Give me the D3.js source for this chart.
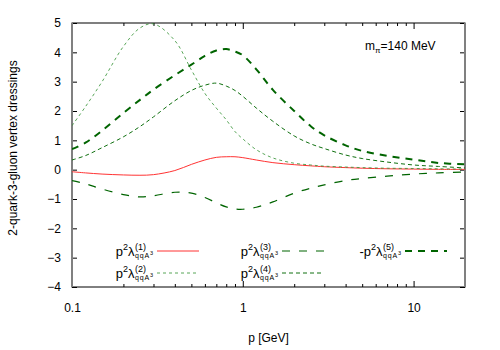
<!DOCTYPE html>
<html>
<head>
<meta charset="utf-8">
<script src="https://cdn.jsdelivr.net/npm/d3@7/dist/d3.min.js"></script>
<style>
  body { margin: 0; background: #fff; }
  text { font-family: "Liberation Sans", Arial, sans-serif; fill: #000; }
</style>
</head>
<body>
<script>
// momentum grid (GeV), shared by all curves
var pValues = [0.1, 0.12, 0.15, 0.2, 0.25, 0.3, 0.4, 0.5, 0.6, 0.7, 0.8, 0.9, 1, 1.2, 1.5, 2, 2.5, 3, 4, 5, 7, 10, 14, 20];
var lambda1 = [-0.07, -0.11, -0.15, -0.18, -0.19, -0.17, -0.03, 0.18, 0.33, 0.42, 0.44, 0.44, 0.41, 0.33, 0.24, 0.17, 0.13, 0.10, 0.07, 0.05, 0.03, 0.02, 0.01, 0.01];
var lambda2 = [1.5, 2.15, 3.0, 4.2, 4.83, 4.97, 4.4, 3.4, 2.6, 2.1, 1.7, 1.3, 1.05, 0.68, 0.4, 0.22, 0.16, 0.12, 0.09, 0.07, 0.05, 0.04, 0.03, 0.02];
var lambda3 = [-0.37, -0.48, -0.66, -0.85, -0.93, -0.89, -0.77, -0.8, -0.95, -1.13, -1.27, -1.34, -1.35, -1.28, -1.1, -0.8, -0.63, -0.52, -0.37, -0.3, -0.22, -0.15, -0.11, -0.08];
var lambda4 = [0.33, 0.48, 0.75, 1.12, 1.47, 1.8, 2.35, 2.7, 2.88, 2.95, 2.85, 2.7, 2.5, 2.1, 1.65, 1.15, 0.88, 0.72, 0.5, 0.38, 0.26, 0.16, 0.11, 0.06];
var lambda5neg = [0.7, 0.92, 1.33, 1.93, 2.38, 2.73, 3.22, 3.58, 3.88, 4.06, 4.11, 4.03, 3.9, 3.42, 2.72, 2.0, 1.48, 1.17, 0.83, 0.64, 0.47, 0.34, 0.23, 0.18];

var yTicks = [-4, -3, -2, -1, 0, 1, 2, 3, 4, 5];
var xMajor = [0.1, 1, 10];
var xMinor = [0.2, 0.3, 0.4, 0.5, 0.6, 0.7, 0.8, 0.9, 2, 3, 4, 5, 6, 7, 8, 9, 20];

var width = 500, height = 350;
var m = { left: 72, right: 35, top: 23, bottom: 63 };
var svg = d3.select('body').append('svg')
    .attr('width', width)
    .attr('height', height);

var x = d3.scaleLog().domain([0.1, 20]).range([m.left, width - m.right]);
var y = d3.scaleLinear().domain([-4, 5]).range([height - m.bottom, m.top]);

svg.append('clipPath').attr('id', 'plotclip')
  .append('rect')
    .attr('x', m.left).attr('y', m.top)
    .attr('width', width - m.left - m.right)
    .attr('height', height - m.top - m.bottom);

// ticks (mirrored, pointing inward)
function tickAxis(axis, tr) {
  var g = svg.append('g').attr('transform', tr).call(axis);
  g.select('.domain').remove();
  g.selectAll('line').attr('stroke', '#000');
  return g;
}
tickAxis(d3.axisLeft(y).tickValues(yTicks).tickSize(-5).tickPadding(11), 'translate(' + m.left + ',0)')
  .selectAll('text').attr('font-size', 12).attr('font-family', '"Liberation Sans", Arial, sans-serif');
tickAxis(d3.axisRight(y).tickValues(yTicks).tickSize(-5).tickFormat(''), 'translate(' + (width - m.right) + ',0)');
tickAxis(d3.axisBottom(x).tickValues(xMajor).tickSize(-6).tickPadding(16).tickFormat(d3.format('')), 'translate(0,' + (height - m.bottom) + ')')
  .selectAll('text').attr('font-size', 12).attr('font-family', '"Liberation Sans", Arial, sans-serif');
tickAxis(d3.axisBottom(x).tickValues(xMinor).tickSize(-3).tickFormat(''), 'translate(0,' + (height - m.bottom) + ')');
tickAxis(d3.axisTop(x).tickValues(xMajor).tickSize(-6).tickFormat(''), 'translate(0,' + m.top + ')');
tickAxis(d3.axisTop(x).tickValues(xMinor).tickSize(-3).tickFormat(''), 'translate(0,' + m.top + ')');

// border
svg.append('rect')
    .attr('x', m.left).attr('y', m.top)
    .attr('width', width - m.left - m.right)
    .attr('height', height - m.top - m.bottom)
    .attr('fill', 'none').attr('stroke', '#000').attr('stroke-width', 1);
svg.append('line').attr('x1', m.left).attr('x2', m.left).attr('y1', m.top).attr('y2', height - m.bottom)
    .attr('stroke', '#808080').attr('stroke-width', 2);
svg.append('line').attr('x1', width - m.right).attr('x2', width - m.right).attr('y1', m.top).attr('y2', height - m.bottom)
    .attr('stroke', '#808080').attr('stroke-width', 2);

var series = [
  { n: 1, vals: lambda1, color: '#ff3333', w: 1, dash: null, neg: false },
  { n: 2, vals: lambda2, color: '#2f8f2f', w: 0.8, dash: '3,3', neg: false },
  { n: 3, vals: lambda3, color: '#006400', w: 1.2, dash: '8,9', neg: false },
  { n: 4, vals: lambda4, color: '#107010', w: 1, dash: '4,3', neg: false },
  { n: 5, vals: lambda5neg, color: '#006400', w: 2, dash: '7,6', neg: true }
];

var line = d3.line()
    .x(function (d) { return x(d[0]); })
    .y(function (d) { return y(d[1]); })
    .curve(d3.curveCatmullRom);

var plot = svg.append('g').attr('clip-path', 'url(#plotclip)');
series.forEach(function (s) {
  plot.append('path')
      .datum(pValues.map(function (p, i) { return [p, s.vals[i]]; }))
      .attr('d', line)
      .attr('fill', 'none')
      .attr('stroke', s.color)
      .attr('stroke-width', s.w)
      .attr('stroke-dasharray', s.dash);
});

// legend
var legendPos = { 1: [157, 251], 2: [157, 273], 3: [282, 251], 4: [282, 273], 5: [405, 251] };
function legendLabel(g, s) {
  var cx = 0;
  function put(str, size, dy, px, ls) {
    var t = g.append('text').attr('x', px).attr('y', dy).attr('font-size', size).text(str);
    if (ls) t.attr('letter-spacing', ls);
    return t.node().getComputedTextLength();
  }
  if (s.neg) cx += put('-', 13, 0, cx);
  cx += put('p', 13, 0, cx);
  cx += put('2', 9, -6, cx);
  cx += put('\u03bb', 13, 0, cx) + 0.5;
  var w1 = put('(' + s.n + ')', 9, -6, cx);
  var w2 = put('qqA', 7, 2, cx, 0.8);
  w2 += put('3', 5.5, -1, cx + w2);
  cx += Math.max(w1, w2);
  return cx;
}
series.forEach(function (s) {
  var pos = legendPos[s.n];
  var g = svg.append('g');
  var w = legendLabel(g, s);
  g.attr('transform', 'translate(' + (pos[0] - 4 - w) + ',' + (pos[1] + 5) + ')');
  svg.append('line')
      .attr('x1', pos[0]).attr('x2', pos[0] + 42)
      .attr('y1', pos[1]).attr('y2', pos[1])
      .attr('stroke', s.color)
      .attr('stroke-width', s.w)
      .attr('stroke-dasharray', s.dash);
});

// m_pi label
var mp = svg.append('text').attr('x', 365).attr('y', 50).attr('font-size', 12);
mp.append('tspan').text('m');
mp.append('tspan').attr('font-size', 8).attr('dy', 3).text('\u03c0');
mp.append('tspan').attr('dy', -3).text('=140 MeV');

// axis titles
svg.append('text')
    .attr('x', (m.left + width - m.right) / 2).attr('y', 342)
    .attr('text-anchor', 'middle').attr('font-size', 12)
    .text('p [GeV]');
svg.append('text')
    .attr('transform', 'translate(17,148) rotate(-90)')
    .attr('text-anchor', 'middle').attr('font-size', 12)
    .text('2-quark-3-gluon vertex dressings');
</script>
</body>
</html>
